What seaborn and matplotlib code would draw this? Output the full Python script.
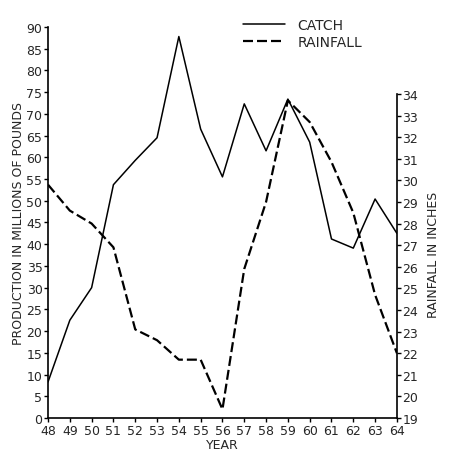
import pandas as pd
import matplotlib
matplotlib.use("Agg")
import matplotlib.pyplot as plt
import seaborn as sns
from matplotlib.lines import Line2D

years = list(range(48, 65))
catch = [8.3, 22.5, 30, 53.7, 59.3, 64.5, 87.8, 66.5, 55.5, 72.3, 61.5, 73.4, 63.5, 41.2, 39.1, 50.4, 42.5]
rainfall = [29.8, 28.6, 28.0, 26.9, 23.1, 22.6, 21.7, 21.7, 19.4, 25.9, 29.0, 33.7, 32.7, 30.85, 28.5, 24.7, 22.0]

df = pd.DataFrame({"year": years, "catch": catch, "rainfall": rainfall})

sns.set_style("white")
plt.rcParams["font.family"] = ["DejaVu Sans"]

dash = (0, (4.5, 1.8))

fig = plt.figure(figsize=(4.5, 4.64), dpi=100)
ax = fig.add_axes([0.1067, 0.097, 0.7753, 0.8427])
sns.lineplot(data=df, x="year", y="catch", ax=ax, color="black", lw=1.1)
ax2 = ax.twinx()
sns.lineplot(data=df, x="year", y="rainfall", ax=ax2, color="black", lw=1.6,
             linestyle=dash)

ax.set_xlim(48, 64)
ax.set_ylim(0, 90)
ax2.set_ylim(19, 37.1)
ax.set_xticks(years)
ax.set_yticks(range(0, 91, 5))
ax2.set_yticks(range(19, 35))

for a in (ax, ax2):
    for s in a.spines.values():
        s.set_visible(False)
    a.tick_params(length=3, width=1, color="black", labelsize=9, pad=1, direction="out")
ax.spines["left"].set_visible(True)
ax.spines["bottom"].set_visible(True)
ax2.spines["right"].set_visible(True)
ax2.spines["right"].set_bounds(19, 34)
for s in (ax.spines["left"], ax.spines["bottom"], ax2.spines["right"]):
    s.set_color("black")
    s.set_linewidth(1.2)
ax.tick_params(axis="x", bottom=True)
ax.tick_params(axis="y", left=True)
ax2.tick_params(axis="y", right=True)

ax.set_xlabel("YEAR", fontsize=9, labelpad=1)
ax.set_ylabel("PRODUCTION IN MILLIONS OF POUNDS", fontsize=9, labelpad=1)
ax2.set_ylabel("RAINFALL IN INCHES", fontsize=9)
ax2.yaxis.set_label_coords(1.085, 0.42)

handles = [Line2D([], [], color="black", lw=1.1),
           Line2D([], [], color="black", lw=1.6, linestyle=dash)]
fig.legend(handles, ["CATCH", "RAINFALL"], loc="upper left",
           bbox_to_anchor=(0.525, 0.975), frameon=False, fontsize=10,
           handlelength=3.0, handletextpad=0.9, labelspacing=0.25, borderpad=0)

fig.savefig("out.png", dpi=100)
